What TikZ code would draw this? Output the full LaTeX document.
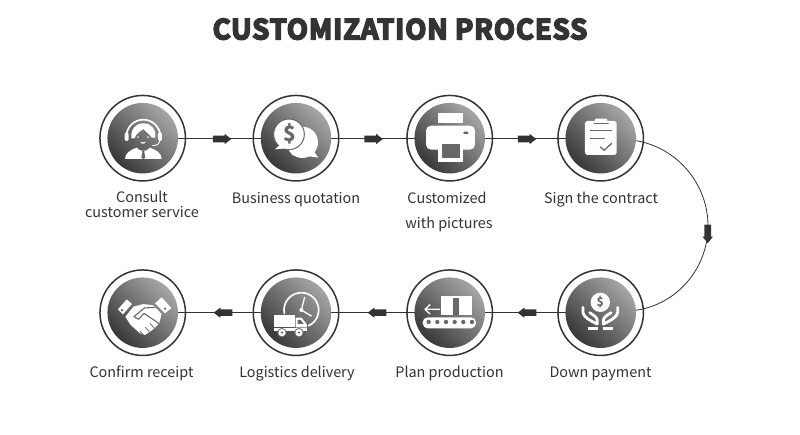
\documentclass[tikz,border=0pt]{standalone}
\usepackage{fontspec}
\setmainfont{Noto Sans CJK SC}
\newfontfamily\titlefont[FakeBold=6,LetterSpace=3.2]{Noto Sans CJK SC Bold}
\pgfdeclarelayer{under}
\pgfdeclarelayer{conn}
\pgfsetlayers{under,conn,main}
\definecolor{ink}{HTML}{333333}
\definecolor{mid}{HTML}{686868}
\tikzset{
  ring/.style={circle,draw=ink,line width=1.5pt,minimum size=85.5pt,inner sep=0pt},
  disc/.style={circle,minimum size=70.5pt,inner sep=0pt,top color=black!35,bottom color=black!78,shading angle=-45},
  conn/.style={draw=ink,line width=.8pt},
  lab/.style={anchor=base,text=ink,font=\fontsize{14.4}{15}\selectfont,inner sep=0pt},
  ttl/.style={anchor=base,text=ink,font=\titlefont\fontsize{27.5}{30}\selectfont,inner sep=0pt},
  w/.style={fill=white,draw=none},
  wl/.style={draw=white,line width=#1,line cap=round,line join=round,fill=none},
  gl/.style={draw=mid,line width=#1,line cap=round,line join=round,fill=none},
  g/.style={fill=mid,draw=none},
  arrowmark/.pic={\fill[ink] (-9.25,-3.3) -- (2.6,-3.3) -- (2.6,-5.2) -- (9.25,0) -- (2.6,5.2) -- (2.6,3.3) -- (-9.25,3.3) -- cycle;},
}
\begin{document}
\begin{tikzpicture}[x=1pt,y=-1pt]
\useasboundingbox (0,0) rectangle (800,435);
\begin{pgfonlayer}{under}\fill[white] (0,0) rectangle (800,435);\end{pgfonlayer}
\node[ttl] (title) at (400,39.3) {CUSTOMIZATION PROCESS};
% rings and discs
\foreach \n/\x/\y in {1/142.7/138.2,2/296/138.2,3/449.7/138.2,4/600.7/138.2,5/600.7/312.7,6/449.7/312.7,7/296/312.7,8/142.7/312.7}{
  \node[ring] (r\n) at (\x,\y) {};
  \node[disc] (c\n) at (\x,\y) {};
}
% connectors
\begin{pgfonlayer}{conn}
\draw[conn,yshift=-.8pt] (c1.center) -- (c2.center);
\draw[conn,yshift=-.8pt] (c2.center) -- (c3.center);
\draw[conn,yshift=-.8pt] (c3.center) -- (c4.center);
\draw[conn] (c5.center) -- (c6.center);
\draw[conn] (c6.center) -- (c7.center);
\draw[conn] (c7.center) -- (c8.center);
\coordinate (bend) at (708,226);
\draw[conn,line width=.8pt] (c4.-4) .. controls (677,147.6) and (708,183.7) .. (bend)
  .. controls (708,268.3) and (677,304.4) .. (c5.4);
\end{pgfonlayer}
% arrow marks
\pic at (222,139) {arrowmark};
\pic at (373.5,139) {arrowmark};
\pic at (527,139) {arrowmark};
\pic[rotate=-90] at (707.7,234) {arrowmark};
\pic[rotate=180] at (527,312.7) {arrowmark};
\pic[rotate=180] at (377,312.7) {arrowmark};
\pic[rotate=180] at (223,312.7) {arrowmark};
% labels
\node[lab] (l1a) at (142,202.7) {Consult};
\node[lab] (l1b) at (142,217.7) {customer service};
\node[lab] (l2) at (296,203.2) {Business quotation};
\node[lab] (l3a) at (447,203.2) {Customized};
\node[lab] (l3b) at (449,228.2) {with pictures};
\node[lab] (l4) at (601,203.2) {Sign the contract};
\node[lab] (l5) at (600.5,377.3) {Down payment};
\node[lab] (l6) at (449.5,377.3) {Plan production};
\node[lab] (l7) at (297,377.3) {Logistics delivery};
\node[lab] (l8) at (141.5,377.3) {Confirm receipt};
% icon 1: agent
\begin{scope}[shift={(110,105)},x=.3333pt,y=-.3333pt]
\draw[wl=1.7pt] (49,95) arc[start angle=180,end angle=360,radius=51];
\fill[w,rounded corners=2pt] (44,82) rectangle (56,108);
\fill[w,rounded corners=2pt] (144,82) rectangle (156,108);
\draw[wl=.9pt] (150,105) .. controls (148,118) and (140,122) .. (128,122);
\fill[w] (100,55) .. controls (76,55) and (62,72) .. (64,100) -- (74,100) .. controls (78,85) and (90,80) .. (100,72) .. controls (108,82) and (118,85) .. (125,98) -- (136,98) .. controls (138,72) and (124,55) .. (100,55) -- cycle;
\fill[w] (84,96) circle (2.5) (114,96) circle (2.5);
\fill[w] (90,110) .. controls (95,113) and (103,113) .. (108,110) -- (102,116) -- (96,116) -- cycle;
\fill[w] (45,162) .. controls (45,145) and (60,135) .. (80,128) -- (90,136) -- (110,136) -- (120,128) .. controls (140,135) and (155,145) .. (155,162) -- cycle;
\fill[mid] (96,136) -- (104,136) -- (103,142) -- (106,158) -- (100,162) -- (94,158) -- (97,142) -- cycle;
\end{scope}
% icon 2: speech bubbles
\begin{scope}[shift={(263,105)},x=.3333pt,y=-.3333pt]
\fill[w] (118,112) circle (47);
\fill[w] (150,135) -- (166,158) -- (125,152) -- cycle;
\fill[w] (100,130) -- (86,150) -- (125,156) -- cycle;
\fill[w,draw=mid,line width=1pt] (78,88) circle (46);
\fill[w] (50,120) -- (36,133) -- (72,130) -- cycle;
\node[inner sep=0pt,text=mid,font=\bfseries\fontsize{21}{22}\selectfont] (dollara) at (80,88) {\$};
\end{scope}
% icon 3: printer
\begin{scope}[shift={(395,85)},x=.3333pt,y=-.3333pt]
\fill[w] (130,83) rectangle (204,113);
\fill[w,rounded corners=5pt] (93,122) rectangle (240,194);
\fill[mid,rounded corners=.8pt] (205,140) rectangle (220,147);
\fill[w] (130,167) rectangle (204,230);
\fill[mid] (140,177) rectangle (194,220);
\end{scope}
% icon 4: clipboard
\begin{scope}[shift={(395,85)},x=.3333pt,y=-.3333pt]
\fill[w,rounded corners=2.6pt] (570,108) rectangle (665,210);
\draw[gl=.8pt] (597,116) -- (640,116);
\fill[w,rounded corners=1pt] (600,101) rectangle (637,114);
\draw[gl=1pt] (586,137) -- (650,137);
\draw[gl=1pt] (586,161) -- (628,161);
\draw[gl=1.3pt] (616,186) -- (628,196) -- (650,175);
\end{scope}
% icon 5: hands with coin
\begin{scope}[shift={(567,280)},x=.3333pt,y=-.3333pt]
\fill[w] (100,67) circle (29);
\node[inner sep=0pt,text=mid,font=\bfseries\fontsize{12}{14}\selectfont] (dollarb) at (100,67) {\$};
\foreach \s in {1,-1}{
\begin{scope}[xshift=33.33pt,xscale=\s]
\draw[wl=2.8pt] (-52,82) -- (-52,98) .. controls (-50,112) and (-30,122) .. (-9,132) -- (-9,122) .. controls (-9,112) and (-20,106) .. (-32,98);
\fill[w] (-37,140) rectangle (-7,150);
\end{scope}}
\end{scope}
% icon 6: conveyor
\begin{scope}[shift={(395,260)},x=.3333pt,y=-.3333pt]
\fill[w] (138,108) rectangle (230,165);
\fill[mid] (175,113) rectangle (193,165);
\draw[wl=1.3pt] (134,148) -- (92,148) (105,134) -- (90,148) -- (105,162);
\fill[w,rounded corners=5pt] (83,172) rectangle (243,205);
\foreach \px in {101,127,153,179,205,231}{\fill[mid] (\px,186) circle (6.5);}
\end{scope}
% icon 7: clock and truck
\begin{scope}[shift={(263,280)},x=.3333pt,y=-.3333pt]
\draw[wl=1.7pt] (64,100) arc[start angle=169,end angle=425,radius=52];
\draw[wl=1.3pt] (115,90) -- (125,52);
\draw[wl=1.3pt] (115,90) -- (145,108);
\fill[w] (115,90) circle (6);
\fill[w] (33,105) rectangle (95,142);
\fill[w] (98,113) -- (116,113) -- (132,134) -- (132,142) -- (98,142) -- cycle;
\fill[mid] (104,120) -- (113,120) -- (122,132) -- (104,132) -- cycle;
\fill[w] (33,145) rectangle (133,154);
\foreach \px in {57,108}{
\fill[mid] (\px,158) circle (14);
\fill[w] (\px,158) circle (11);
\fill[mid] (\px,158) circle (4);}
\end{scope}
% icon 8: handshake
\begin{scope}[shift={(110,280)},x=.3333pt,y=-.3333pt]
\fill[w] (24,88) -- (50,58) -- (66,72) -- (39,103) -- cycle;
\fill[mid] (36,91) circle (4);
\fill[w] (135,70) -- (155,52) -- (184,84) -- (165,100) -- cycle;
\fill[mid] (165,86) circle (4);
\fill[w] (46,110) -- (70,80) -- (100,72) -- (130,76) -- (155,102) -- (148,130) -- (130,148) -- (105,165) -- (90,160) -- (62,135) -- cycle;
\draw[gl=1.1pt,line cap=butt] (135,82) -- (103,84) -- (72,110) -- (86,118) -- (102,100) -- (152,134);
\draw[gl=.8pt,line cap=butt] (100,165) -- (90,153) (118,155) -- (106,142) (133,145) -- (120,130);
\end{scope}
\end{tikzpicture}
\end{document}
